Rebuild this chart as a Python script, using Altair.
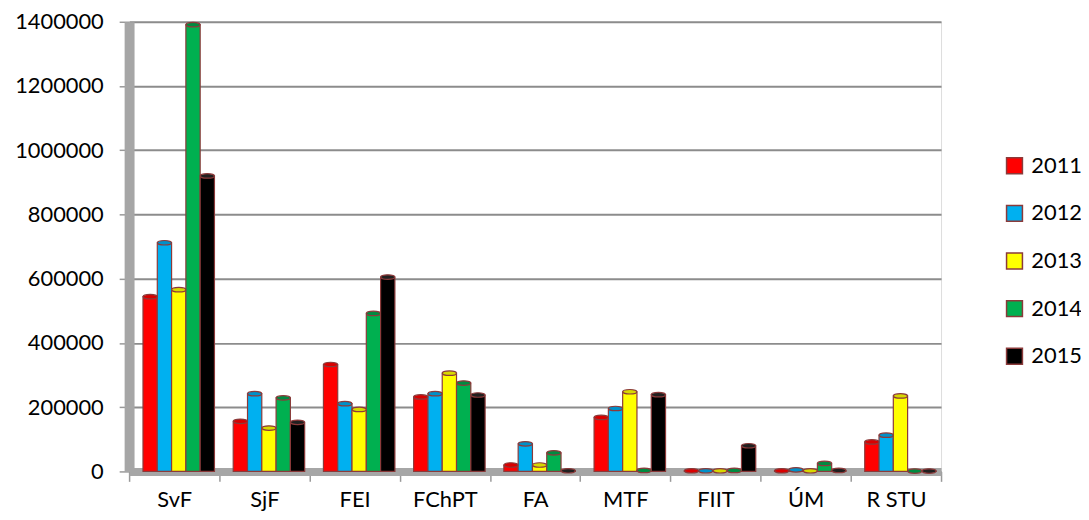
import altair as alt
import pandas as pd

faculties = ["SvF", "SjF", "FEI", "FChPT", "FA", "MTF", "FIIT", "ÚM", "R STU"]
years = ["2011", "2012", "2013", "2014", "2015"]
v2011 = [544000, 156000, 333000, 232000, 20000, 168000, 2000, 2000, 92000]
v2012 = [712000, 242000, 211000, 242000, 86000, 196000, 2000, 5000, 113000]
v2013 = [566000, 135000, 193000, 306000, 20000, 248000, 2000, 2000, 235000]
v2014 = [1391000, 229000, 492000, 275000, 58000, 3000, 3000, 25000, 1000]
v2015 = [920000, 153000, 605000, 238000, 2000, 239000, 80000, 3000, 1000]
colors = ["#FF0000", "#00B0F0", "#FFFF00", "#00B050", "#000000"]
top_colors = ["#D90000", "#0090C8", "#D8D800", "#008A40", "#202020"]
y_ticks = [0, 200000, 400000, 600000, 800000, 1000000, 1200000, 1400000]

rows = []
for yr, vals in zip(years, [v2011, v2012, v2013, v2014, v2015]):
    for f, v in zip(faculties, vals):
        rows.append({"Fakulta": f, "Rok": yr, "Hodnota": v})
df = pd.DataFrame(rows)

W, H = 818, 453
font = "Lato"
ellipse = "M-1,0 A1,0.32 0 1,0 1,0 A1,0.32 0 1,0 -1,0 Z"

x_enc = alt.X("Fakulta:N", sort=faculties, title=None,
              scale=alt.Scale(paddingInner=0, paddingOuter=0),
              axis=alt.Axis(labelAngle=0, labelFontSize=22, labelFont=font, labelColor="#000",
                            tickBand="extent", tickColor="#999", tickSize=10, tickWidth=1.5,
                            domainColor="#A6A6A6", domainWidth=8, labelPadding=8))
xoff = alt.XOffset("Rok:N", sort=years, scale=alt.Scale(range=[14, 86], paddingInner=0, paddingOuter=0))
y_enc = alt.Y("Hodnota:Q", title=None,
              scale=alt.Scale(domain=[0, 1400000], nice=False),
              axis=alt.Axis(values=y_ticks, format="d", labelFontSize=22, labelFont=font,
                            labelColor="#000", gridColor="#8C8C8C", gridWidth=2,
                            tickColor="#999", tickSize=10, tickWidth=1.5,
                            domainColor="#A6A6A6", domainWidth=10, labelPadding=16))

bars = alt.Chart(df).mark_bar(
    stroke="#8B3A3A", strokeWidth=1.2
).encode(
    x=x_enc, xOffset=xoff, y=y_enc,
    color=alt.Color("Rok:N", sort=years,
                    scale=alt.Scale(domain=years, range=colors),
                    legend=alt.Legend(title=None, orient="none", legendX=881, legendY=134,
                                      symbolType="square", symbolSize=256,
                                      symbolStrokeColor="#8B3A3A", symbolStrokeWidth=1.5,
                                      labelFontSize=22, labelFont=font, labelColor="#000",
                                      rowPadding=26, labelOffset=6)),
)

tops = alt.Chart(df).mark_point(
    shape=ellipse, filled=True, size=200, stroke="#8B3A3A", strokeWidth=1.2, opacity=1
).encode(
    x=alt.X("Fakulta:N", sort=faculties),
    xOffset=alt.XOffset("Rok:N", sort=years),
    y="Hodnota:Q",
    fill=alt.Fill("Rok:N", sort=years, scale=alt.Scale(domain=years, range=top_colors), legend=None),
)

chart = alt.layer(bars, tops).resolve_scale(fill="independent").properties(
    width=W, height=H,
    autosize=alt.AutoSizeParams(type="none"),
    padding={"left": 122, "top": 12, "right": 141, "bottom": 39},
).configure_view(
    fill="#F2E6E6", stroke=None
).configure(background="white")

chart.save("out.html", embed_options={"renderer": "svg", "actions": False})
